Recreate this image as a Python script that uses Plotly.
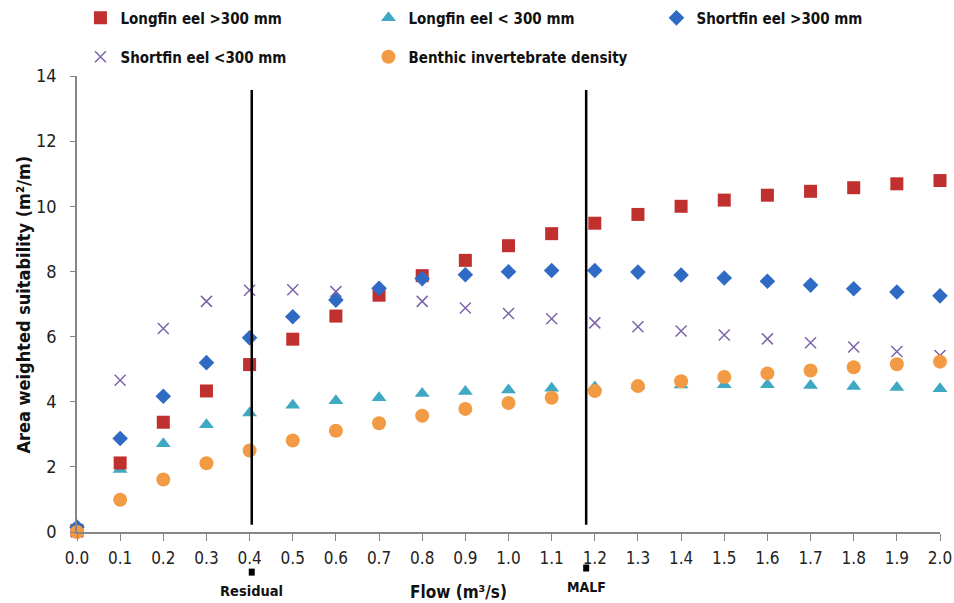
import plotly.graph_objects as go

flow = [0.0, 0.1, 0.2, 0.3, 0.4, 0.5, 0.6, 0.7, 0.8, 0.9, 1.0,
        1.1, 1.2, 1.3, 1.4, 1.5, 1.6, 1.7, 1.8, 1.9, 2.0]

longfin_gt300 = [0.05, 2.12, 3.37, 4.33, 5.14, 5.92, 6.63, 7.27, 7.87, 8.34, 8.79,
                 9.16, 9.48, 9.75, 10.0, 10.19, 10.34, 10.46, 10.57, 10.69, 10.79]
longfin_lt300 = [0.05, 1.92, 2.71, 3.29, 3.65, 3.89, 4.03, 4.12, 4.25, 4.31, 4.36,
                 4.41, 4.45, 4.49, 4.51, 4.52, 4.52, 4.5, 4.47, 4.44, 4.4]
shortfin_gt300 = [0.15, 2.87, 4.17, 5.2, 5.96, 6.61, 7.12, 7.48, 7.78, 7.9, 7.99,
                  8.03, 8.03, 7.98, 7.89, 7.8, 7.7, 7.58, 7.47, 7.37, 7.25]
shortfin_lt300 = [0.0, 4.66, 6.25, 7.08, 7.42, 7.44, 7.38, 7.31, 7.08, 6.88, 6.71,
                  6.55, 6.42, 6.3, 6.17, 6.05, 5.93, 5.81, 5.68, 5.54, 5.42]
benthic = [0.0, 0.99, 1.61, 2.11, 2.5, 2.81, 3.11, 3.34, 3.57, 3.78, 3.96,
           4.12, 4.33, 4.48, 4.63, 4.76, 4.87, 4.96, 5.06, 5.15, 5.23]

x_tick_vals = [i / 10 for i in range(21)]
x_tick_text = ["%.1f" % v for v in x_tick_vals]
y_tick_vals = [0, 2, 4, 6, 8, 10, 12, 14]

residual_flow = 0.405
malf_flow = 1.18

FONT = "DejaVu Sans Condensed, sans-serif"

series = [
    ("Longfin eel >300 mm", longfin_gt300, "square", "#C0302E", 13, "legend"),
    ("Longfin eel < 300 mm", longfin_lt300, "triangle-up", "#3FA9C4", 13, "legend"),
    ("Shortfin eel >300 mm", shortfin_gt300, "diamond", "#2F6BC4", 12, "legend"),
    ("Shortfin eel <300 mm", shortfin_lt300, "x-thin", "#7B64A8", 11, "legend2"),
    ("Benthic invertebrate density", benthic, "circle", "#F39A45", 14, "legend2"),
]

fig = go.Figure()
for idx in [1, 3, 0, 2, 4]:
    name, vals, sym, col, sz, lg = series[idx]
    marker = dict(symbol=sym, color=col, size=sz)
    if sym == "x-thin":
        marker["line"] = dict(color=col, width=1.5)
    fig.add_trace(go.Scatter(x=flow, y=vals, mode="markers",
                             name="<b>%s</b>" % name,
                             marker=marker, legend=lg, cliponaxis=False,
                             legendrank=idx))

for xv in [residual_flow, malf_flow]:
    fig.add_shape(type="line", x0=xv, x1=xv, y0=0.22, y1=13.57, xref="x", yref="y",
                  line=dict(color="black", width=2.5))

# small black square flags under the tick labels
for xv, yp in [(residual_flow, -0.088), (malf_flow, -0.079)]:
    fig.add_shape(type="rect", xref="x", yref="paper", xsizemode="pixel", ysizemode="pixel",
                  xanchor=xv, yanchor=yp, x0=-3, x1=3, y0=-3.5, y1=3.5,
                  fillcolor="black", line=dict(width=0))

def ann(x, y, text, size, xref="x", angle=0):
    fig.add_annotation(x=x, y=y, xref=xref, yref="paper", text=text, textangle=angle,
                       showarrow=False, xanchor="center", yanchor="middle",
                       font=dict(size=size, color="#111", family=FONT))

ann(residual_flow, -0.129, "<b>Residual</b>", 14.5)
ann(malf_flow, -0.12, "<b>MALF</b>", 14)
ann(0.4416, -0.132, "<b>Flow (m³/s)</b>", 17, xref="paper")
ann(-0.062, 0.5, "<b>Area weighted suitability (m²/m)</b>", 18, xref="paper", angle=-90)

legend_common = dict(orientation="h", xanchor="left", yanchor="middle",
                     entrywidth=243, entrywidthmode="pixels",
                     font=dict(size=15, family=FONT, color="#111"),
                     traceorder="normal", bgcolor="rgba(0,0,0,0)")

fig.update_layout(
    width=954, height=603,
    margin=dict(l=77, r=14, t=76, b=71, autoexpand=False),
    paper_bgcolor="white", plot_bgcolor="white",
    font=dict(family=FONT, size=15, color="#222"),
    showlegend=True,
    legend=dict(x=0.004, y=1.127, **legend_common),
    legend2=dict(x=0.004, y=1.0417, **legend_common),
    xaxis=dict(range=[0, 2.0], tickvals=x_tick_vals, ticktext=x_tick_text,
               showgrid=False, zeroline=False, showline=True, linecolor="#868686",
               linewidth=1.5, ticks="outside", ticklen=7, tickcolor="#868686",
               ticklabelstandoff=3,
               tickfont=dict(size=17, color="#222")),
    yaxis=dict(range=[0, 14], tickvals=y_tick_vals, showgrid=False, zeroline=False,
               showline=True, linecolor="#868686", linewidth=1.5, ticks="outside",
               ticklen=5, tickcolor="#868686", ticklabelstandoff=10,
               tickfont=dict(size=18, color="#222")),
)

fig.write_html("out.html")
